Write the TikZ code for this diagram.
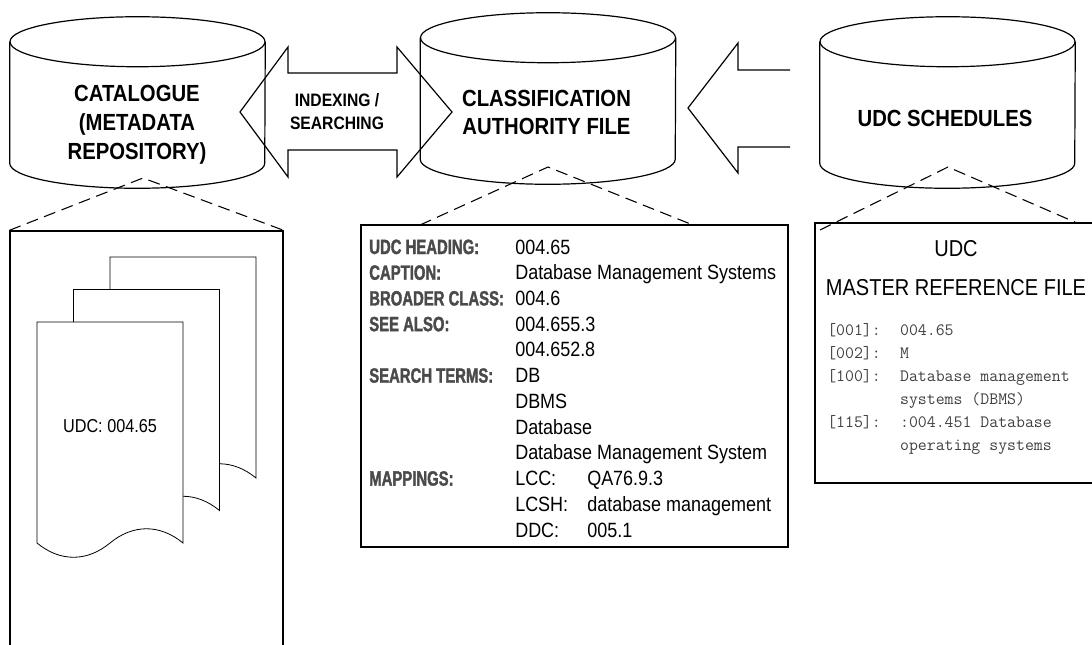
\documentclass[tikz,border=0pt]{standalone}
\usepackage{fontspec}
\setmainfont[FakeStretch=0.87]{Liberation Sans}
\newfontfamily\udcnarrow[FakeStretch=0.72, FakeBold=1.6]{Liberation Sans Bold}
\definecolor{udclabel}{HTML}{4A4A4A}
\definecolor{udcmonogray}{HTML}{404040}
\newcommand\udclab[1]{\makebox[109.5pt][l]{\udcnarrow\color{udclabel}#1}}
\newcommand\udcmap[1]{\makebox[54pt][l]{#1}}
\newcommand\mrfkey[1]{\makebox[54.6pt][l]{#1}}
\tikzset{
  drum/.style={minimum width=191.25pt, minimum height=90.75pt, inner sep=0pt},
  drumline/.style={line width=0.9pt},
  drumtitle/.style={font=\fontsize{17.5}{21.6}\selectfont\bfseries, align=center, inner sep=0pt},
  arrowline/.style={line width=0.9pt},
  zoomline/.style={dash pattern=on 9pt off 5pt, line width=0.8pt},
  panel/.style={draw, line width=1pt, inner sep=0pt},
  udcpage/.style={draw, fill=white, line width=0.6pt}
}

\begin{document}
\begin{tikzpicture}[x=0.75pt, y=-0.75pt]
\useasboundingbox (0,0) rectangle (1092,644);
\clip (0,0) rectangle (1092,644);

\node[drum] (cat) at (137.5,102.5) {};
\node[drum] (caf) at (548,98.5) {};
\node[drum] (sch) at (947.5,102.5) {};
\foreach \n in {cat,caf,sch} {
  \draw[drumline] (\n.north) ellipse [x radius=127.5, y radius=25];
  \draw[drumline] (\n.north west) -- (\n.south west) arc [start angle=180, end angle=0, x radius=127.5, y radius=25] -- (\n.north east);
}
\node[drumtitle] (cattitle) at (137,124.5) {CATALOGUE\\(METADATA\\REPOSITORY)};
\node[drumtitle] (caftitle) at (546.5,112.5) {CLASSIFICATION\\AUTHORITY FILE};
\node[drumtitle] (schtitle) at (945,118) {UDC SCHEDULES};

\draw[arrowline] (240,112) -- (288,47) -- (288,73) -- (397,73) -- (397,47) -- (452,112)
  -- (397,177) -- (397,150) -- (288,150) -- (288,177) -- cycle;
\node[font=\fontsize{13.5}{17.25}\selectfont\bfseries, align=center] (idx) at (337,112) {INDEXING /\\SEARCHING};
\draw[arrowline] (790,70) -- (738,70) -- (738,43) -- (688,108) -- (738,173) -- (738,147) -- (790,147);

\node[panel, minimum width=204.75pt, minimum height=321.75pt] (catbox) at (146.5,445.5) {};
\foreach \i in {2,1,0}
  \draw[udcpage, shift={(36.5*\i,-32.5*\i)}] (37,543) -- (37,322) -- (183,322) -- (183,543)
    .. controls (160,524) and (133,524) .. (110,543) .. controls (87,562) and (60,562) .. (37,543) -- cycle;
\node[font=\fontsize{14}{16}\selectfont] (rec) at (110,426) {UDC: 004.65};

\node[panel, minimum width=320.25pt, minimum height=241.5pt] (authbox) at (574.5,386) {};
\node[anchor=north west, align=left, inner sep=0pt, font=\fontsize{15.5}{19.3}\selectfont] (authtext) at (369,239.3) {%
\udclab{UDC HEADING:}004.65\\
\udclab{CAPTION:}Database Management Systems\\
\udclab{BROADER CLASS:}004.6\\
\udclab{SEE ALSO:}004.655.3\\
\udclab{}004.652.8\\
\udclab{SEARCH TERMS:}DB\\
\udclab{}DBMS\\
\udclab{}Database\\
\udclab{}Database Management System\\
\udclab{MAPPINGS:}\udcmap{LCC:}QA76.9.3\\
\udclab{}\udcmap{LCSH:}database management\\
\udclab{}\udcmap{DDC:}005.1};

\node[panel, minimum width=211.5pt, minimum height=195pt] (mrfbox) at (956,353) {};
\node[font=\fontsize{17.25}{29.25}\selectfont, align=center] (mrftitle) at (956,268.5) {UDC\\MASTER REFERENCE FILE};
\node[anchor=north west, align=left, inner sep=0pt, text=udcmonogray, font=\ttfamily\fontsize{13}{17.25}\selectfont] (mrftext) at (827,323.5) {%
\mrfkey{[001]:}004.65\\
\mrfkey{[002]:}M\\
\mrfkey{[100]:}Database management\\
\mrfkey{}systems (DBMS)\\
\mrfkey{[115]:}:004.451 Database\\
\mrfkey{}operating systems};

\coordinate (catzoom) at (143,178);
\coordinate (cafzoom) at (548,167);
\coordinate (cafleft) at (420,225);
\coordinate (cafright) at (693,225);
\coordinate (schzoom) at (948,167);
\coordinate (schleft) at (820,230);
\coordinate (schright) at (1077,223);
\draw[zoomline] (catbox.north west) -- (catzoom) -- (catbox.north east);
\draw[zoomline] (cafleft) -- (cafzoom) -- (cafright);
\draw[zoomline] (schleft) -- (schzoom) -- (schright);
\end{tikzpicture}
\end{document}
